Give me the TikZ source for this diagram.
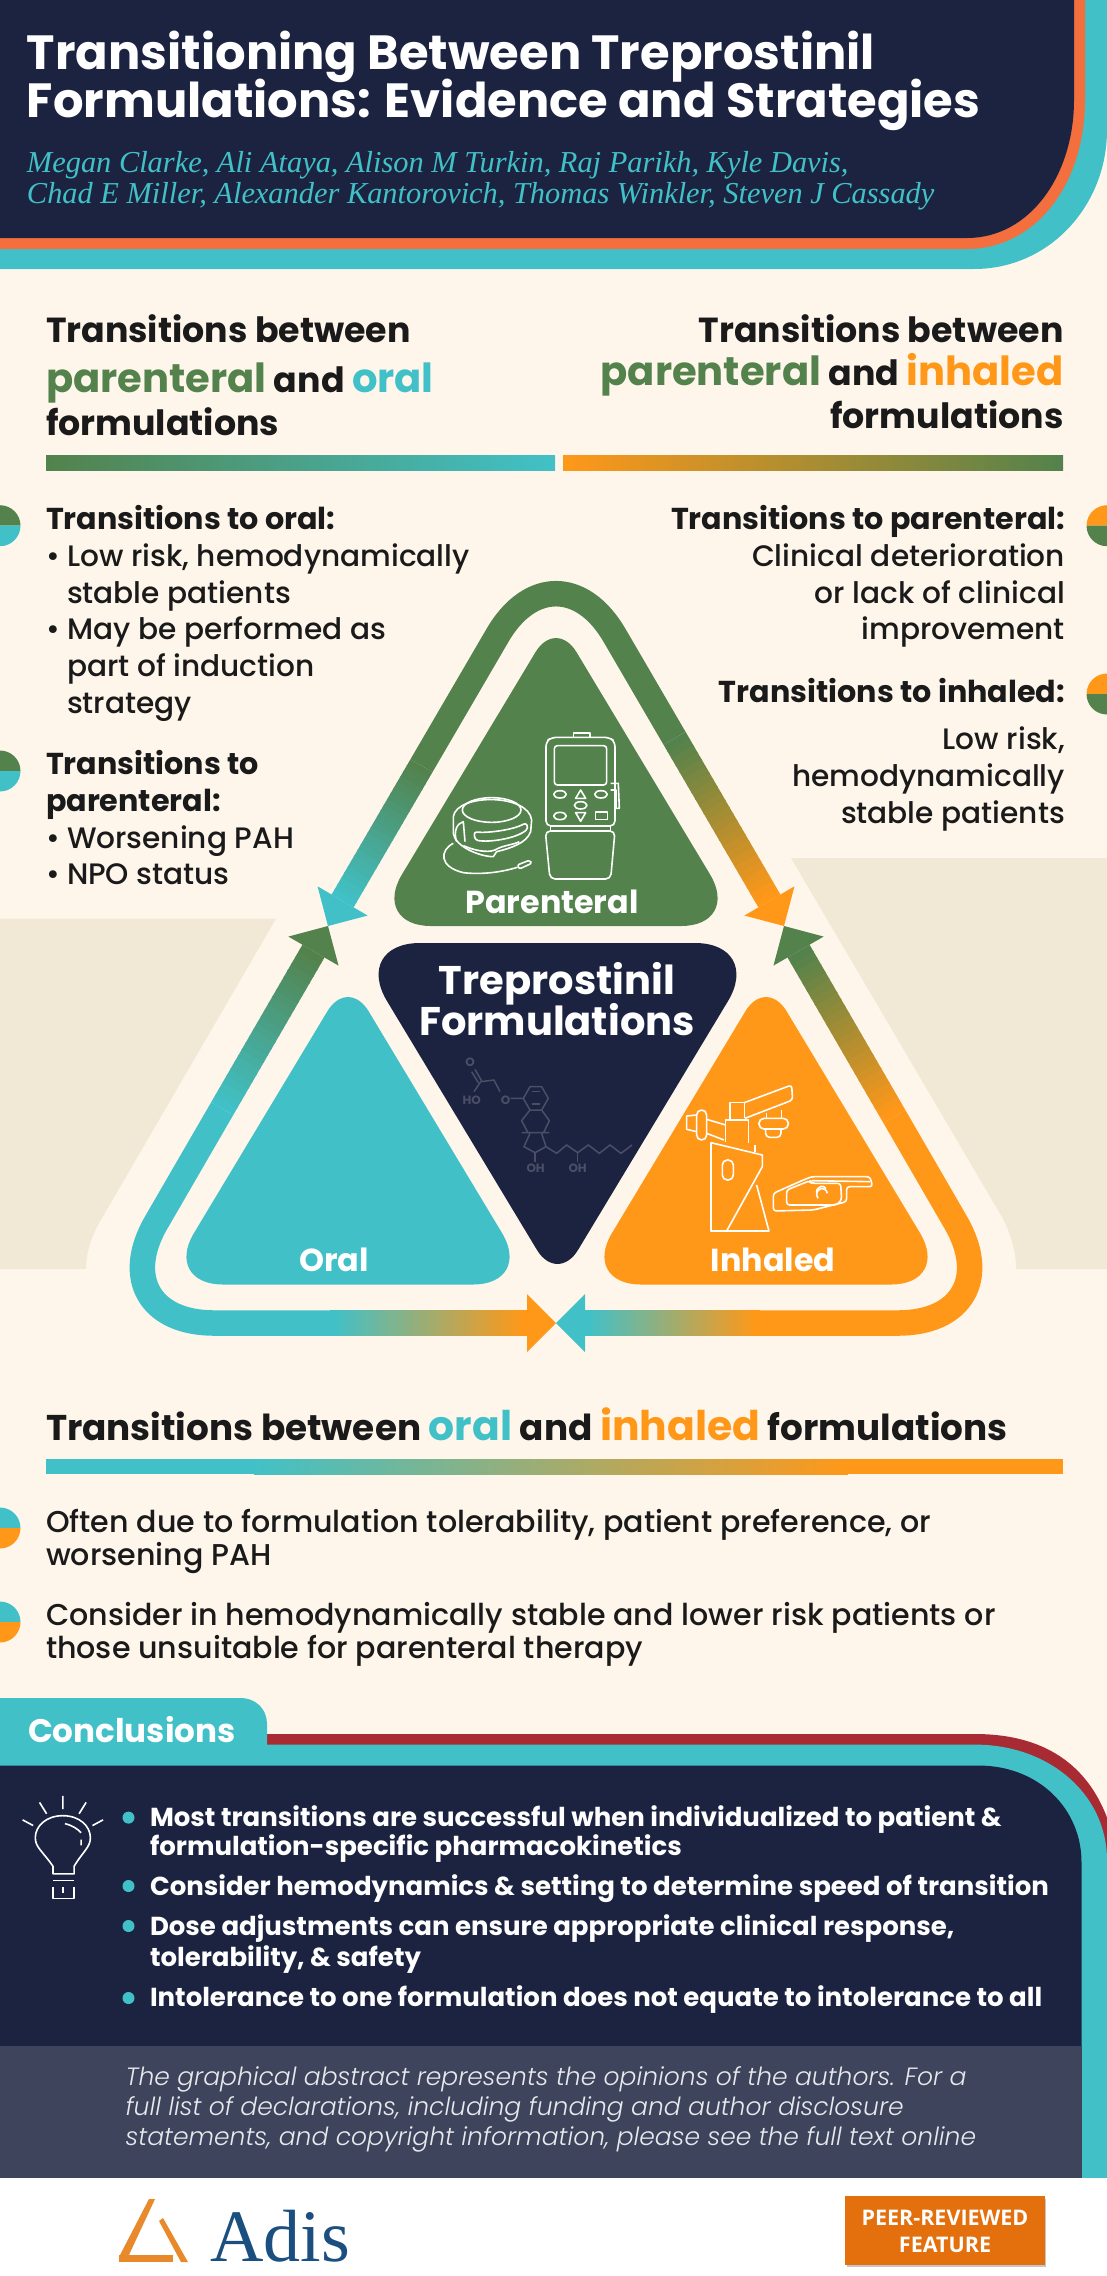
\documentclass[tikz,border=0pt]{standalone}
\usepackage{fontspec}
\usetikzlibrary{calc}
\setmainfont{Poppins}
\newfontfamily\popmed{Poppins Medium}
\newfontfamily\poplight{Poppins Light Italic}
\newfontfamily\authorfont{Liberation Serif}
\newfontfamily\peerfont{Open Sans}
\newcommand{\fs}[1]{\fontsize{#1}{#1}\selectfont}
\definecolor{navyc}{HTML}{1C2340}
\definecolor{slatec}{HTML}{3F445D}
\definecolor{tealc}{HTML}{41C1C7}
\definecolor{coralc}{HTML}{F36F3D}
\definecolor{creamc}{HTML}{FFF6EB}
\definecolor{tanc}{HTML}{F2E8D6}
\definecolor{greenc}{HTML}{53824C}
\definecolor{orangec}{HTML}{FF9819}
\definecolor{redc}{HTML}{A82A33}
\definecolor{inkc}{HTML}{1A1A1A}
\definecolor{molc}{HTML}{4A4F66}
\definecolor{peerc}{HTML}{E46F0D}
\definecolor{adisc}{HTML}{1B4F7F}
\definecolor{logoc}{HTML}{E8892B}
\tikzset{
  every node/.style={inner sep=0pt,outer sep=0pt},
  bodytxt/.style={anchor=base west,text=inkc,font=\popmed\fs{29.6}},
  midtxt/.style={anchor=base west,text=inkc,font=\popmed\fs{30.1}},
  boldtxt/.style={anchor=base west,text=inkc,font=\bfseries\fs{30.2}},
  headtxt/.style={anchor=base west,text=inkc,font=\bfseries\fs{34.8}},
  concl/.style={anchor=base west,text=white,font=\bfseries\fs{26}},
  foot/.style={anchor=base west,text=white!88!slatec,font=\poplight\fs{25}},
  author/.style={anchor=base west,text=tealc,font=\authorfont\itshape\fs{30.4}},
  trilab/.style={anchor=base,text=white,font=\bfseries\fs{31.8}},
  centlab/.style={anchor=base,text=white,font=\bfseries\fs{40}},
  icon/.style={draw=white,line width=1.6pt,line join=round},
  mol/.style={draw=molc,line width=1.5pt},
  moltxt/.style={text=molc,font=\bfseries\fs{12}},
  ring/.style={line width=25.5pt,rounded corners=116pt},
}
% half dot on the page edge
\newcommand{\halfdot}[4]{%
  \fill[#3] (#1,#2) ++(-20.5,0) arc[start angle=180,end angle=360,radius=20.5] -- cycle;
  \fill[#4] (#1,#2) ++(20.5,0) arc[start angle=0,end angle=180,radius=20.5] -- cycle;
}
% shaft made of short pieces, plain head
\newcommand{\gradarrow}[4]{%
  \coordinate (hb) at ($(#2)!29pt!(#1)$);
  \foreach \i in {0,...,23} {
    \pgfmathsetmacro\p{100*\i/23}
    \pgfmathsetmacro\q{\i/24}
    \pgfmathsetmacro\r{min(1,(\i+1.2)/24)}
    \draw[line width=25.5pt,color=#4!\p!#3] ($(#1)!\q!(hb)$) -- ($(#1)!\r!(hb)$);
  }
  \fill[#4] ($(hb)!29pt!90:(#2)$) -- (#2) -- ($(hb)!29pt!-90:(#2)$) -- cycle;
}
% colour, apex x, apex y, base y, half width
\newcommand{\roundtri}[5]{%
  \fill[#1] (#2,#4) [rounded corners=60pt] -- (#2+#5,#4) [rounded corners=40pt] -- (#2,#3) [rounded corners=60pt] -- (#2-#5,#4) -- cycle;
}
\begin{document}
\begin{tikzpicture}[x=1pt,y=-1pt]
  \useasboundingbox (0,0) rectangle (1107,2276);
  \clip (0,0) rectangle (1107,2276);
  \fill[creamc] (0,0) rectangle (1107,2276);
  % tan panels
  \fill[tanc] (0,918.7) -- (276,918.7) -- (98,1225) .. controls (90,1240) and (86,1255) .. (86,1269) -- (0,1269) -- cycle;
  \fill[tanc] (791,858) -- (1107,858) -- (1107,1269) -- (1016,1269) .. controls (1016,1250) and (1010,1232) .. (1002,1217) -- cycle;
  % header
  \fill[tealc] (0,0) -- (1107,0) -- (1107,130) .. controls (1107,205) and (1050,269) .. (974,269) -- (0,269) -- cycle;
  \fill[coralc] (0,0) -- (1085,0) -- (1085,100) .. controls (1085,185) and (1035,249) .. (967,249) -- (0,249) -- cycle;
  \fill[navyc] (0,0) -- (1074,0) -- (1074,100) .. controls (1074,175) and (1030,238) .. (967,238) -- (0,238) -- cycle;
  \node[anchor=base west,text=white,font=\bfseries\fs{48}] (title1) at (27,69) {Transitioning Between Treprostinil};
  \node[anchor=base west,text=white,font=\bfseries\fs{48}] (title2) at (27,117) {Formulations: Evidence and Strategies};
  \node[author] (auth1) at (27,172) {Megan Clarke, Ali Ataya, Alison M Turkin, Raj Parikh, Kyle Davis,};
  \node[author] (auth2) at (27,203) {Chad E Miller, Alexander Kantorovich, Thomas Winkler, Steven J Cassady};
  % top headings
  \node[headtxt] (hl1) at (46,342) {Transitions between};
  \node[headtxt] (hl2) at (46,392) {{\color{greenc}\fs{40.1}parenteral} and {\color{tealc}\fs{40.1}oral}};
  \node[headtxt] (hl3) at (46,435) {formulations};
  \node[headtxt,anchor=base east] (hr1) at (1063.5,342) {Transitions between};
  \node[headtxt,anchor=base east] (hr2) at (1063.5,385) {{\color{greenc}\fs{40.1}parenteral} and {\color{orangec}\fs{40.1}inhaled}};
  \node[headtxt,anchor=base east] (hr3) at (1063.5,428) {formulations};
  \shade[left color=greenc,right color=tealc] (46,455) rectangle (555,470);
  \shade[left color=orangec,right color=greenc] (563,455) rectangle (1063,470);
  % left column
  \halfdot{0}{525.7}{greenc}{tealc}
  \halfdot{0}{771}{greenc}{tealc}
  \node[boldtxt] (lt1) at (46,529) {Transitions to oral:};
  \node[bodytxt] (lb1) at (46,566) {•};
  \node[bodytxt] (ll1) at (67,566) {Low risk, hemodynamically};
  \node[bodytxt] (ll2) at (67,603) {stable patients};
  \node[bodytxt] (lb2) at (46,639) {•};
  \node[bodytxt] (ll3) at (67,639) {May be performed as};
  \node[bodytxt] (ll4) at (67,676) {part of induction};
  \node[bodytxt] (ll5) at (67,713) {strategy};
  \node[boldtxt] (lt2) at (46,774) {Transitions to};
  \node[boldtxt] (lt3) at (46,811) {parenteral:};
  \node[bodytxt] (lb3) at (46,848) {•};
  \node[bodytxt] (ll6) at (67,848) {Worsening PAH};
  \node[bodytxt] (lb4) at (46,884) {•};
  \node[bodytxt] (ll7) at (67,884) {NPO status};
  % right column
  \halfdot{1107}{525.7}{orangec}{greenc}
  \halfdot{1107}{694}{orangec}{greenc}
  \node[boldtxt,anchor=base east] (rt1) at (1065,529) {Transitions to parenteral:};
  \node[bodytxt,anchor=base east] (rl1) at (1065,566) {Clinical deterioration};
  \node[bodytxt,anchor=base east] (rl2) at (1065,603) {or lack of clinical};
  \node[bodytxt,anchor=base east] (rl3) at (1065,639) {improvement};
  \node[boldtxt,anchor=base east] (rt2) at (1065,702) {Transitions to inhaled:};
  \node[bodytxt,anchor=base east] (rl4) at (1065,749) {Low risk,};
  \node[bodytxt,anchor=base east] (rl5) at (1065,786) {hemodynamically};
  \node[bodytxt,anchor=base east] (rl6) at (1065,823) {stable patients};
  % ring of arrows
  \coordinate (topv) at (556,535);
  \coordinate (leftv) at (98,1323);
  \coordinate (rightv) at (1014,1323);
  \coordinate (ltip) at (328,926);
  \coordinate (rtip) at (784,926);
  \coordinate (btip) at (556,1323);
  \coordinate (agrad) at ($(topv)!0.59!(ltip)$);
  \coordinate (bgrad) at ($(topv)!0.52!(rtip)$);
  \coordinate (cgrad) at ($(leftv)!0.54!(ltip)$);
  \coordinate (dgrad) at ($(rightv)!0.52!(rtip)$);
  \coordinate (egrad) at (330,1323);
  \coordinate (fgrad) at (760,1323);
  \draw[ring,greenc] (agrad) -- (topv) -- (bgrad);
  \draw[ring,tealc] (cgrad) -- (leftv) -- (egrad);
  \draw[ring,orangec] (dgrad) -- (rightv) -- (fgrad);
  \gradarrow{agrad}{ltip}{greenc}{tealc}
  \gradarrow{bgrad}{rtip}{greenc}{orangec}
  \gradarrow{cgrad}{ltip}{tealc}{greenc}
  \gradarrow{dgrad}{rtip}{orangec}{greenc}
  \gradarrow{egrad}{btip}{tealc}{orangec}
  \gradarrow{fgrad}{btip}{orangec}{tealc}
  % the four triangles
  \roundtri{greenc}{556}{618}{926}{185}
  \roundtri{tealc}{348}{977}{1284.5}{185}
  \roundtri{orangec}{766}{977}{1284.5}{185}
  \fill[navyc] (557.5,943) [rounded corners=68pt] -- (763,943) [rounded corners=40pt] -- (557.5,1284) [rounded corners=68pt] -- (352,943) -- cycle;
  \node[trilab] (parlab) at (552,913) {Parenteral};
  \node[trilab] (orallab) at (334,1271) {Oral};
  \node[trilab] (inhlab) at (773,1271) {Inhaled};
  \node[centlab] (centlab1) at (557,994) {Treprostinil};
  \node[centlab] (centlab2) at (557,1035.5) {Formulations};
  % pump
  \begin{scope}[shift={(400,700)},x=0.3333pt,y=-0.3333pt]
    \draw[icon] (520,110) -- (520,99) -- (570,99) -- (570,110);
    \draw[icon,rounded corners=5pt] (438,378) -- (438,125) -- (455,112) -- (628,112) -- (645,125) -- (645,378) -- cycle;
    \draw[icon,rounded corners=3pt] (463,137) rectangle (620,255);
    \draw[icon,rounded corners=5pt] (436,393) -- (645,393) -- (632,537) -- (450,537) -- cycle;
    \draw[icon] (452,378) -- (452,393) (632,378) -- (632,393);
    \draw[icon] (632,250) -- (655,250) -- (658,325) -- (648,325) (632,270) -- (648,270) -- (648,325);
    \draw[icon] (480,283) ellipse[x radius=19,y radius=11];
    \draw[icon] (603,283) ellipse[x radius=19,y radius=11];
    \draw[icon] (480,348) ellipse[x radius=19,y radius=11];
    \draw[icon] (542,316) ellipse[x radius=19,y radius=11];
    \draw[icon] (527,295) -- (557,295) -- (542,270) -- cycle;
    \draw[icon] (527,338) -- (557,338) -- (542,364) -- cycle;
    \draw[icon] (587,336) rectangle (622,358);
    \draw[icon] (275,330) ellipse[x radius=88,y radius=37];
    \draw[icon] (160,350) .. controls (170,280) and (385,280) .. (395,360) -- (392,395) .. controls (380,430) and (330,445) .. (290,455) -- (280,470) .. controls (240,470) and (165,440) .. (160,400) -- cycle;
    \draw[icon,rounded corners=3pt] (222,395) .. controls (260,400) and (340,390) .. (378,368) -- (385,385) .. controls (350,415) and (270,428) .. (225,420) -- cycle;
    \draw[icon] (170,425) .. controls (160,395) and (170,370) .. (190,365) -- (195,425);
    \draw[icon] (190,437) .. controls (220,450) and (260,460) .. (285,450) .. controls (310,435) and (340,435) .. (358,425);
    \draw[icon] (160,430) .. controls (120,450) and (115,500) .. (190,518) .. controls (250,525) and (310,515) .. (352,502);
    \draw[icon,rounded corners=2pt] (352,495) -- (390,480) -- (395,490) -- (358,507) -- cycle;
  \end{scope}
  % molecule and inhalers
  \begin{scope}[shift={(420,1030)},x=0.3333pt,y=-0.3333pt]
    \draw[mol] (165,118) -- (185,153) (155,125) -- (175,158) (182,155) -- (162,185);
    \draw[mol] (182,155) -- (222,150) -- (240,185) (272,205) -- (310,205);
    \draw[mol] (310,205) -- (330,170) -- (365,170) -- (385,205) -- (365,240) -- (330,240) -- cycle;
    \draw[mol] (335,185) -- (360,185) (335,222) -- (360,222);
    \draw[mol] (330,240) -- (305,272) -- (325,310) (365,240) -- (388,272) -- (370,310) (305,308) -- (388,308);
    \draw[mol] (330,310) -- (312,350) -- (345,368) -- (378,350) -- (365,310);
    \draw[mol] (345,368) -- (345,395) (473,368) -- (473,395);
    \draw[mol] (378,350) -- (410,370) -- (440,345) -- (473,368) -- (505,345) -- (538,370) -- (570,345) -- (603,370) -- (636,345);
    \node[moltxt] (mo1) at (150,98) {O};
    \node[moltxt] (mho) at (155,212) {HO};
    \node[moltxt] (mo2) at (257,210) {O};
    \node[moltxt] (moh1) at (347,415) {OH};
    \node[moltxt] (moh2) at (473,415) {OH};
    \draw[icon] (873,338) -- (1027,375) -- (1027,410) -- (920,603) -- (873,603) -- cycle;
    \draw[icon] (1010,465) -- (1047,603) -- (920,603);
    \draw[icon,rounded corners=5pt] (907,390) rectangle (940,450);
    \draw[icon] (917,335) -- (917,270) -- (985,270) -- (985,340) (1005,345) -- (1005,365);
    \draw[icon] (930,268) -- (930,218) -- (973,218) -- (973,265);
    \draw[icon,rounded corners=3pt] (973,218) -- (1115,165) -- (1118,210) -- (975,265);
    \draw[icon] (1040,250) -- (1040,265) (1085,240) -- (1085,265);
    \draw[icon,rounded corners=5pt] (1017,265) rectangle (1105,297);
    \draw[icon,rounded corners=4pt] (1037,297) -- (1037,322) -- (1083,322) -- (1083,297);
    \draw[icon,rounded corners=5pt] (830,240) rectangle (860,330);
    \draw[icon] (830,255) -- (800,258) -- (800,298) -- (830,305);
    \draw[icon] (860,268) -- (917,285) (860,310) -- (912,330);
    \draw[icon,rounded corners=3pt] (1060,490) -- (1150,450) -- (1175,440) -- (1350,440) -- (1358,470) -- (1280,470) -- (1280,515) -- (1180,540) -- (1060,543) -- cycle;
    \draw[icon,rounded corners=3pt] (1170,452) -- (1100,480) -- (1100,525) -- (1250,525) -- (1265,510) -- (1262,460) -- (1175,460) -- cycle;
    \draw[icon] (1175,452) -- (1350,455);
    \draw[icon] (1190,490) arc[start angle=170,end angle=320,x radius=16,y radius=18];
    \draw[icon] (1222,490) arc[start angle=350,end angle=140,x radius=16,y radius=18];
  \end{scope}
  % oral and inhaled section
  \node[headtxt,font=\bfseries\fs{35.8}] (hm) at (46,1440) {Transitions between {\color{tealc}\fs{40.9}oral} and {\color{orangec}\fs{40.9}inhaled} formulations};
  \fill[tealc] (46,1459) rectangle (255,1474);
  \shade[left color=tealc,right color=orangec] (254,1459) rectangle (848,1474);
  \fill[orangec] (847,1459) rectangle (1063,1474);
  \halfdot{0}{1528}{tealc}{orangec}
  \halfdot{0}{1622}{tealc}{orangec}
  \node[midtxt] (ml1) at (46,1532) {Often due to formulation tolerability, patient preference, or};
  \node[midtxt] (ml2) at (46,1565) {worsening PAH};
  \node[midtxt] (ml3) at (46,1625) {Consider in hemodynamically stable and lower risk patients or};
  \node[midtxt] (ml4) at (46,1658) {those unsuitable for parenteral therapy};
  % conclusions panel
  \fill[redc] (0,1734) -- (975,1734) .. controls (1055,1734) and (1100,1775) .. (1115,1845) -- (1115,1900) -- (0,1900) -- cycle;
  \fill[tealc] (0,1744.6) -- (975,1744.6) .. controls (1050,1744.6) and (1107,1795) .. (1107,1860) -- (1107,2178) -- (0,2178) -- cycle;
  \fill[tealc] (0,1698) -- (240,1698) .. controls (257,1698) and (267,1710) .. (267,1724) -- (267,1770) -- (0,1770) -- cycle;
  \fill[navyc] (0,1765.5) -- (978,1765.5) .. controls (1040,1765.5) and (1081.5,1810) .. (1081.5,1862) -- (1081.5,2046) -- (0,2046) -- cycle;
  \fill[slatec] (0,2046) rectangle (1081.5,2178);
  \fill[white] (0,2178) rectangle (1107,2276);
  \node[anchor=base west,text=white,font=\bfseries\fs{32.6}] (conclab) at (28,1742.7) {Conclusions};
  % bulb
  \begin{scope}[shift={(0,1680)},x=0.706pt,y=-0.38pt]
    \draw[icon] (89,305) -- (89,340) (56,322) -- (66,352) (122,322) -- (112,352) (32,368) -- (47,383) (146,368) -- (131,383);
    \draw[icon] (75,510) -- (75,490) .. controls (60,450) and (50,440) .. (50,415) .. controls (50,385) and (65,357) .. (89,357) .. controls (113,357) and (128,385) .. (128,415) .. controls (128,440) and (118,450) .. (105,490) -- (105,510) -- cycle;
    \draw[icon] (75,528) -- (105,528) (75,545) -- (75,575) -- (105,575) -- (105,545) (89,545) -- (89,560);
    \draw[icon] (92,378) .. controls (103,383) and (110,392) .. (115,402) (115,420) -- (115,435);
  \end{scope}
  \foreach \y in {1817.6,1886,1926,1998} \fill[tealc] (128.5,\y) circle[radius=6];
  \node[concl] (cl1) at (150,1826) {Most transitions are successful when individualized to patient \&};
  \node[concl] (cl2) at (150,1855) {formulation-specific pharmacokinetics};
  \node[concl] (cl3) at (150,1895.5) {Consider hemodynamics \& setting to determine speed of transition};
  \node[concl] (cl4) at (150,1935) {Dose adjustments can ensure appropriate clinical response,};
  \node[concl] (cl5) at (150,1966) {tolerability, \& safety};
  \node[concl] (cl6) at (150,2006) {Intolerance to one formulation does not equate to intolerance to all};
  \node[foot] (ft1) at (125.6,2085.5) {The graphical abstract represents the opinions of the authors. For a};
  \node[foot] (ft2) at (125.6,2115.6) {full list of declarations, including funding and author disclosure};
  \node[foot] (ft3) at (125.6,2145.6) {statements, and copyright information, please see the full text online};
  % logo and badge
  \fill[logoc] (149,2199) -- (155,2199) -- (128,2257) -- (119,2257) -- cycle;
  \fill[logoc] (159,2221) -- (163,2218) -- (188,2262) -- (181,2262) -- cycle;
  \fill[logoc] (119,2255) rectangle (173,2262);
  \node[anchor=base west,text=adisc,font=\authorfont\fs{74}] (adislab) at (210,2261.5) {Adis};
  \fill[gray!45] (847,2199) rectangle (1046,2267);
  \node[fill=peerc,minimum width=200pt,minimum height=69pt,anchor=north west] (peerbox) at (845,2196) {};
  \node[anchor=base,text=white,font=\peerfont\bfseries\fs{21.5}] (peer1) at (945,2225) {PEER-REVIEWED};
  \node[anchor=base,text=white,font=\peerfont\bfseries\fs{21.5}] (peer2) at (945,2252) {FEATURE};
\end{tikzpicture}
\end{document}
